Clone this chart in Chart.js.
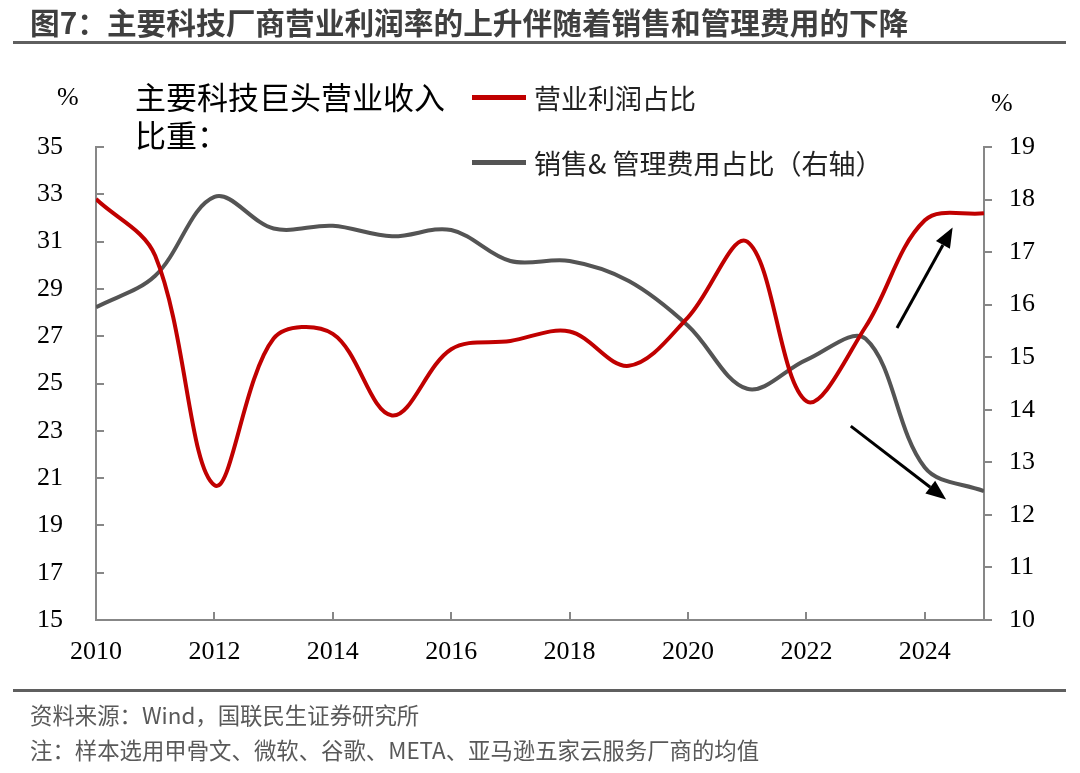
<!DOCTYPE html>
<html>
<head>
<meta charset="utf-8">
<script src="https://cdn.jsdelivr.net/npm/chart.js@4.4.0/dist/chart.umd.min.js"></script>
<style>
  body { margin: 0; width: 1080px; height: 773px; background: #fff; position: relative; overflow: hidden;
         font-family: "Noto Sans CJK SC", sans-serif; }
  #chart { position: absolute; left: 0; top: 0; }
  .abs { position: absolute; white-space: nowrap; line-height: 1; }
  .title { left: 30px; top: 7px; font-size: 29.7px; font-weight: bold; color: #3f3f3f; }
  .rule { left: 13px; width: 1053px; height: 3px; background: #5f5f5f; }
  .pct { font-family: "Liberation Serif", serif; font-size: 26px; color: #000; }
  .note { font-size: 31px; color: #000; left: 135px; }
  .legend { left: 472px; font-size: 27px; color: #222; display: flex; align-items: center; }
  .legend i { display: inline-block; width: 54px; height: 5px; margin-right: 8px; }
  .foot { left: 30px; font-size: 22.4px; color: #595959; }
</style>
</head>
<body>
<canvas id="chart" width="1080" height="773"></canvas>

<div class="abs title">图7：主要科技厂商营业利润率的上升伴随着销售和管理费用的下降</div>
<div class="abs rule" style="top:41px"></div>

<div class="abs pct" style="left:57px; top:84px">%</div>
<div class="abs pct" style="left:991px; top:90px">%</div>
<div class="abs note" style="top:80px">主要科技巨头营业收入</div>
<div class="abs note" style="top:118px">比重：</div>

<div class="abs legend" style="top:84px"><i style="background:#c00000"></i>营业利润占比</div>
<div class="abs legend" style="top:149px"><i style="background:#545454"></i>销售&amp; 管理费用占比（右轴）</div>

<div class="abs rule" style="top:689px"></div>
<div class="abs foot" style="top:703px">资料来源：Wind，国联民生证券研究所</div>
<div class="abs foot" style="top:738px">注：样本选用甲骨文、微软、谷歌、META、亚马逊五家云服务厂商的均值</div>

<script>
// annual values
const years = [2010, 2011, 2012, 2013, 2014, 2015, 2016, 2017, 2018, 2019, 2020, 2021, 2022, 2023, 2024, 2025];
const profitRatio = [32.8, 30.4, 20.7, 26.9, 27.1, 23.65, 26.45, 26.8, 27.2, 25.75, 27.8, 31.0, 24.25, 27.4, 31.9, 32.2];
const expenseRatio = [15.95, 16.55, 18.05, 17.45, 17.5, 17.3, 17.42, 16.83, 16.83, 16.45, 15.6, 14.4, 14.95, 15.35, 12.9, 12.45];

const leftTicks = [15, 17, 19, 21, 23, 25, 27, 29, 31, 33, 35];
const rightTicks = [10, 11, 12, 13, 14, 15, 16, 17, 18, 19];
const yearTicks = [2010, 2012, 2014, 2016, 2018, 2020, 2022, 2024];

// arrows, [year, left-axis value]
const arrowUp = [[2023.53, 27.35], [2024.47, 31.6]];
const arrowDown = [[2022.75, 23.2], [2024.36, 20.1]];

const axisGray = '#878787';
const tickFont = { family: 'Liberation Serif', size: 26 };

const innerTicks = {
    id: 'innerTicks',
    afterDraw(chart) {
        const ctx = chart.ctx;
        const { x, y, y2 } = chart.scales;
        const area = chart.chartArea;
        ctx.save();
        ctx.strokeStyle = axisGray;
        ctx.lineWidth = 2;
        ctx.beginPath();
        leftTicks.forEach(v => {
            const py = Math.round(y.getPixelForValue(v));
            ctx.moveTo(area.left, py);
            ctx.lineTo(area.left + 8, py);
        });
        yearTicks.forEach(v => {
            const px = Math.round(x.getPixelForValue(v));
            ctx.moveTo(px, area.bottom);
            ctx.lineTo(px, area.bottom - 8);
        });
        rightTicks.forEach(v => {
            const py = Math.round(y2.getPixelForValue(v));
            ctx.moveTo(area.right, py);
            ctx.lineTo(area.right + 8, py);
        });
        ctx.stroke();

        // arrows
        ctx.strokeStyle = '#000';
        ctx.fillStyle = '#000';
        ctx.lineWidth = 3;
        [arrowUp, arrowDown].forEach(a => {
            const x0 = x.getPixelForValue(a[0][0]), y0 = y.getPixelForValue(a[0][1]);
            const x1 = x.getPixelForValue(a[1][0]), y1 = y.getPixelForValue(a[1][1]);
            const ang = Math.atan2(y1 - y0, x1 - x0);
            const head = 20, half = 8;
            const bx = x1 - head * Math.cos(ang), by = y1 - head * Math.sin(ang);
            ctx.beginPath();
            ctx.moveTo(x0, y0);
            ctx.lineTo(bx, by);
            ctx.stroke();
            ctx.beginPath();
            ctx.moveTo(x1, y1);
            ctx.lineTo(bx + half * Math.sin(ang), by - half * Math.cos(ang));
            ctx.lineTo(bx - half * Math.sin(ang), by + half * Math.cos(ang));
            ctx.closePath();
            ctx.fill();
        });
        ctx.restore();
    }
};

new Chart(document.getElementById('chart'), {
    type: 'line',
    data: {
        datasets: [{
            label: '营业利润占比',
            data: years.map((yr, i) => ({ x: yr, y: profitRatio[i] })),
            borderColor: '#c00000',
            borderWidth: 4,
            pointRadius: 0,
            tension: 0.35,
            yAxisID: 'y'
        }, {
            label: '销售& 管理费用占比（右轴）',
            data: years.map((yr, i) => ({ x: yr, y: expenseRatio[i] })),
            borderColor: '#545454',
            borderWidth: 4,
            pointRadius: 0,
            tension: 0.35,
            yAxisID: 'y2'
        }]
    },
    options: {
        responsive: false,
        animation: false,
        layout: { padding: { top: 147, left: 0, right: 0, bottom: 0 } },
        plugins: { legend: { display: false }, tooltip: { enabled: false } },
        scales: {
            x: {
                type: 'linear',
                min: 2010, max: 2025,
                afterBuildTicks: s => { s.ticks = yearTicks.map(v => ({ value: v })); },
                afterFit: s => { s.height = 153; },
                ticks: { font: tickFont, color: '#000', padding: 17, maxRotation: 0, callback: v => String(v) },
                grid: { display: true, drawOnChartArea: false, drawTicks: false },
                border: { display: true, color: axisGray, width: 2 }
            },
            y: {
                position: 'left',
                min: 15, max: 35,
                afterBuildTicks: s => { s.ticks = leftTicks.map(v => ({ value: v })); },
                afterFit: s => { s.width = 96; },
                ticks: { font: tickFont, color: '#000', padding: 33 },
                grid: { display: true, drawOnChartArea: false, drawTicks: false },
                border: { display: true, color: axisGray, width: 2 }
            },
            y2: {
                position: 'right',
                min: 10, max: 19,
                afterBuildTicks: s => { s.ticks = rightTicks.map(v => ({ value: v })); },
                afterFit: s => { s.width = 96; },
                ticks: { font: tickFont, color: '#000', padding: 25 },
                grid: { display: true, drawOnChartArea: false, drawTicks: false },
                border: { display: true, color: axisGray, width: 2 }
            }
        }
    },
    plugins: [innerTicks]
});
</script>
</body>
</html>
